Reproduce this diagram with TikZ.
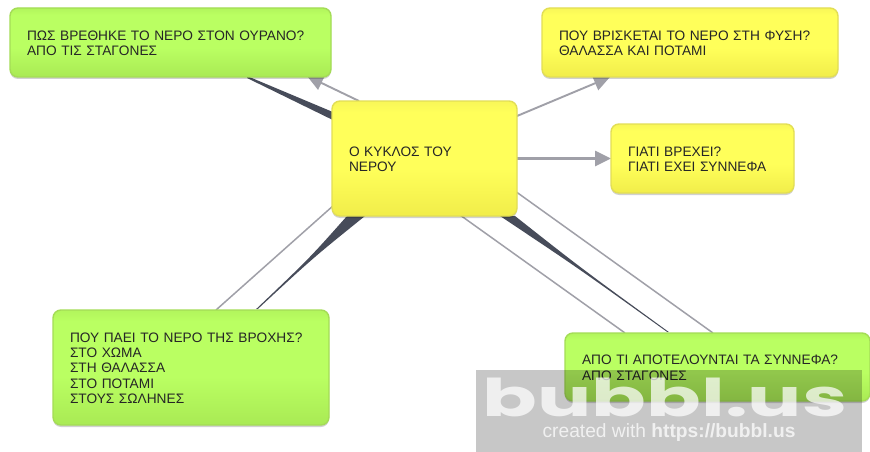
\documentclass[tikz,border=0pt]{standalone}
\usepackage{fontspec}
\setmainfont{Liberation Sans}
\newfontfamily\logofont{Poppins}[UprightFont=* Bold]
\usetikzlibrary{arrows.meta,calc,shadows,backgrounds}
\definecolor{txt}{HTML}{262626}
\definecolor{linkgray}{HTML}{A0A0A8}
\definecolor{linkdark}{HTML}{474C5A}
\definecolor{gborder}{HTML}{A4DC56}
\definecolor{yborder}{HTML}{E2DE55}
\definecolor{gA}{HTML}{A9EA54}
\definecolor{gB}{HTML}{BAFF62}
\definecolor{gC}{HTML}{B2F55C}
\definecolor{yA}{HTML}{F1ED4A}
\definecolor{yB}{HTML}{FFFF5A}
\definecolor{yC}{HTML}{F8F658}
\pgfdeclareverticalshading{greenfade}{100bp}{color(0bp)=(gA);color(25bp)=(gA);color(46bp)=(gB);color(70bp)=(gB);color(75bp)=(gC);color(100bp)=(gC)}
\pgfdeclareverticalshading{yellowfade}{100bp}{color(0bp)=(yA);color(25bp)=(yA);color(46bp)=(yB);color(70bp)=(yB);color(75bp)=(yC);color(100bp)=(yC)}
\tikzset{
  x=1pt,y=-1pt,
  bubble/.style={rounded corners=8pt,line width=1.4pt,inner xsep=15pt,inner ysep=0pt,outer sep=0pt,align=left,text=txt,
    font=\fontsize{13.7}{15.2}\selectfont,
    drop shadow={shadow xshift=0pt,shadow yshift=-2pt,opacity=.18,fill=black}},
  gbubble/.style={bubble,draw=gborder,shading=greenfade},
  ybubble/.style={bubble,draw=yborder,shading=yellowfade},
  thinlink/.style={draw=linkgray,line width=1.5pt},
  arrowlink/.style={draw=linkgray,line width=1.9pt,-{Triangle[length=16pt,width=15pt,fill=linkgray]}},
  taper/.style={fill=linkdark,draw=none},
}
\newcommand{\bubblebox}[7]{% style, name, x1, y1, x2, y2, text
  \pgfmathsetmacro{\bw}{#5-#3}\pgfmathsetmacro{\bh}{#6-#4}
  \pgfmathsetmacro{\tw}{\bw-30}
  \node[#1,minimum width=\bw pt,minimum height=\bh pt,text width=\tw pt] (#2) at ({(#3+#5)/2},{(#4+#6)/2}) {\hspace*{2pt}\begin{minipage}{\dimexpr\tw pt-2pt\relax}\vspace*{1.4pt}\raggedright #7\end{minipage}};
}
\newcommand{\taperlink}[3]{% wide corner, wide corner, thin end
  \coordinate (tA) at #1; \coordinate (tB) at #2; \coordinate (tT) at #3;
  \coordinate (tM) at ($(tA)!.5!(tB)$);
  \coordinate (tL) at ($(tT)+(-0.8,0)$); \coordinate (tR) at ($(tT)+(0.8,0)$);
  \fill[taper] (tA) .. controls ($($(tA)!.75!(tM)$)!.45!(tL)$) .. (tL) -- (tR) .. controls ($($(tB)!.75!(tM)$)!.45!(tR)$) .. (tB) -- cycle;
}
\begin{document}
\begin{tikzpicture}
\useasboundingbox (0,0) rectangle (870,452);
% nodes
\bubblebox{gbubble}{nTL}{10}{8}{331}{77}{ΠΩΣ ΒΡΕΘΗΚΕ ΤΟ ΝΕΡΟ ΣΤΟΝ ΟΥΡΑΝΟ?\\ΑΠΟ ΤΙΣ ΣΤΑΓΟΝΕΣ}
\bubblebox{ybubble}{nTR}{542}{8}{838}{77}{ΠΟΥ ΒΡΙΣΚΕΤΑΙ ΤΟ ΝΕΡΟ ΣΤΗ ΦΥΣΗ?\\ΘΑΛΑΣΣΑ ΚΑΙ ΠΟΤΑΜΙ}
\bubblebox{ybubble}{nR}{611}{124}{794}{193}{ΓΙΑΤΙ ΒΡΕΧΕΙ?\\ΓΙΑΤΙ ΕΧΕΙ ΣΥΝΝΕΦΑ}
\bubblebox{ybubble}{nC}{332}{101}{517}{216}{Ο ΚΥΚΛΟΣ ΤΟΥ\\ΝΕΡΟΥ}
\bubblebox{gbubble}{nBL}{53}{310}{329}{425}{ΠΟΥ ΠΑΕΙ ΤΟ ΝΕΡΟ ΤΗΣ ΒΡΟΧΗΣ?\\ΣΤΟ ΧΩΜΑ\\ΣΤΗ ΘΑΛΑΣΣΑ\\ΣΤΟ ΠΟΤΑΜΙ\\ΣΤΟΥΣ ΣΩΛΗΝΕΣ}
\bubblebox{gbubble}{nBR}{565}{333}{870}{401}{ΑΠΟ ΤΙ ΑΠΟΤΕΛΟΥΝΤΑΙ ΤΑ ΣΥΝΝΕΦΑ?\\ΑΠΟ ΣΤΑΓΟΝΕΣ}
% connectors, behind the nodes
\begin{scope}[on background layer]
\fill[white] (0,0) rectangle (870,452);
\fill[taper] ($(nC.north west)+(8,14)$) -- ($(nC.north west)+(8,22.5)$) -- ($(nTL.south west)+(237,1)$) -- ($(nTL.south west)+(237,-1)$) -- cycle;
\draw[arrowlink] ($(nC.north west)+(27,0)$) -- ($(nTL.south west)+(297,-1)$);
\draw[arrowlink] ($(nC.north east)+(0,15)$) -- ($(nTR.south west)+(68,0)$);
\draw[arrowlink,line width=2.6pt] (nC.east) -- (nR.west);
\draw[thinlink] ($(nC.south west)+(2,-11)$) -- ($(nBL.north west)+(163,0)$);
\taperlink{($(nC.south west)+(15,0)$)}{($(nC.south west)+(33,0)$)}{($(nBL.north west)+(204,-1)$)}
\draw[thinlink] ($(nC.south east)+(-2,-25)$) -- ($(nBR.north west)+(148,0)$);
\draw[thinlink] ($(nC.south west)+(128,-1)$) -- ($(nBR.north west)+(60,0)$);
\taperlink{($(nC.south west)+(168,0)$)}{($(nC.south west)+(183,0)$)}{($(nBR.north west)+(103,-1)$)}
\end{scope}
% watermark
\fill[black,opacity=.22] (476,370) rectangle (862,452);
\node[text=white,text opacity=.72,inner sep=0pt,anchor=base,xscale=1.55,font=\logofont\fontsize{52}{52}\selectfont] (logo) at (665,416) {bubbl.us};
\node[text=white,text opacity=.75,inner sep=0pt,font=\fontsize{19.2}{20}\selectfont] (credit) at (669,433) {created with \textbf{https://bubbl.us}};
\end{tikzpicture}
\end{document}
